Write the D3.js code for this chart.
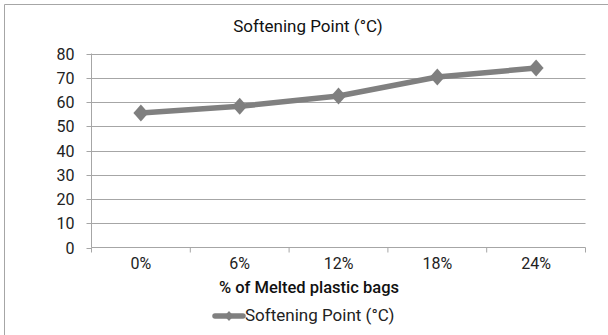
<!DOCTYPE html>
<html><head><meta charset="utf-8">
<script src="https://cdn.jsdelivr.net/npm/d3@7"></script>
<style>body{margin:0;background:#fff}svg{display:block}text{font-family:Roboto,"Noto Sans",sans-serif}</style>
</head><body>
<svg id="c" width="608" height="335"></svg>
<script>
const categories = ["0%", "6%", "12%", "18%", "24%"];
const values = [55.5, 58.2, 62.5, 70.3, 74.0];
const yTicks = [0, 10, 20, 30, 40, 50, 60, 70, 80];
const title = "Softening Point (°C)";
const xTitle = "% of Melted plastic bags";
const seriesName = "Softening Point (°C)";

(function(){
const svg = d3.select("#c");
svg.append("path").attr("d","M4.5,340 V4.5 H620").attr("fill","none").attr("stroke","#a6a6a6").attr("stroke-width",1);

const pL = 91.5, pR = 585.5, pT = 53.5, pB = 247.5;
const x = d3.scaleBand().domain(categories).range([pL, pR]);
const y = d3.scaleLinear().domain([0, 80]).range([pB, pT]);

svg.append("g").selectAll("line").data(yTicks.filter(d=>d>0)).join("line")
  .attr("x1", pL).attr("x2", pR)
  .attr("y1", d=>Math.round(y(d))+0.5).attr("y2", d=>Math.round(y(d))+0.5)
  .attr("stroke","#a6a6a6").attr("stroke-width",1.2);

const ya = svg.append("g").attr("transform",`translate(${pL},0)`)
  .call(d3.axisLeft(y).tickValues(yTicks).tickSize(5).tickPadding(12));
ya.select(".domain").attr("stroke","#a6a6a6").attr("d",`M0,${pT}V${pB}`);
ya.selectAll(".tick line").attr("stroke","#a6a6a6");
ya.selectAll(".tick").attr("transform", d=>`translate(0,${Math.round(y(d))+0.5})`);
ya.selectAll("text").attr("font-size",16).attr("fill","#222").attr("font-family","Roboto,sans-serif");

const xa = svg.append("g").attr("transform",`translate(0,${pB})`)
  .call(d3.axisBottom(x).tickSize(0).tickPadding(10));
xa.select(".domain").attr("stroke","#a6a6a6").attr("d",`M${pL},0H${pR}`);
xa.selectAll("text").attr("font-size",16).attr("fill","#222").attr("font-family","Roboto,sans-serif");
const edges = categories.map(c=>x(c)).concat([pR]);
svg.append("g").selectAll("line").data(edges).join("line")
  .attr("x1",d=>d).attr("x2",d=>d).attr("y1",pB).attr("y2",pB+5)
  .attr("stroke","#a6a6a6");

const cx = d=>x(d)+x.bandwidth()/2;
const line = d3.line().x((d,i)=>cx(categories[i])).y(d=>y(d));
svg.append("path").datum(values).attr("d",line).attr("fill","none")
  .attr("stroke","#808080").attr("stroke-width",5.5).attr("stroke-linejoin","round");

const diamond = "M0,-8.5L7.5,0L0,8.5L-7.5,0Z";
svg.append("g").selectAll("path").data(values).join("path")
  .attr("transform",(d,i)=>`translate(${cx(categories[i])},${y(d)})`)
  .attr("d",diamond).attr("fill","#7f7f7f");

svg.append("text").attr("x",308).attr("y",32).attr("text-anchor","middle")
  .attr("font-size",17).attr("fill","#111").text(title);
svg.append("text").attr("x",309).attr("y",293).attr("text-anchor","middle")
  .attr("font-size",16.5).attr("font-weight",500).attr("fill","#111").text(xTitle);

const lg = svg.append("g");
lg.append("line").attr("x1",215).attr("x2",243).attr("y1",316).attr("y2",316)
  .attr("stroke","#808080").attr("stroke-width",5.5).attr("stroke-linecap","round");
lg.append("path").attr("transform","translate(229,316)").attr("d","M0,-5L4.5,0L0,5L-4.5,0Z").attr("fill","#7f7f7f");
lg.append("text").attr("x",245).attr("y",321).attr("font-size",17).attr("fill","#222").text(seriesName);
})();
</script>
</body></html>
